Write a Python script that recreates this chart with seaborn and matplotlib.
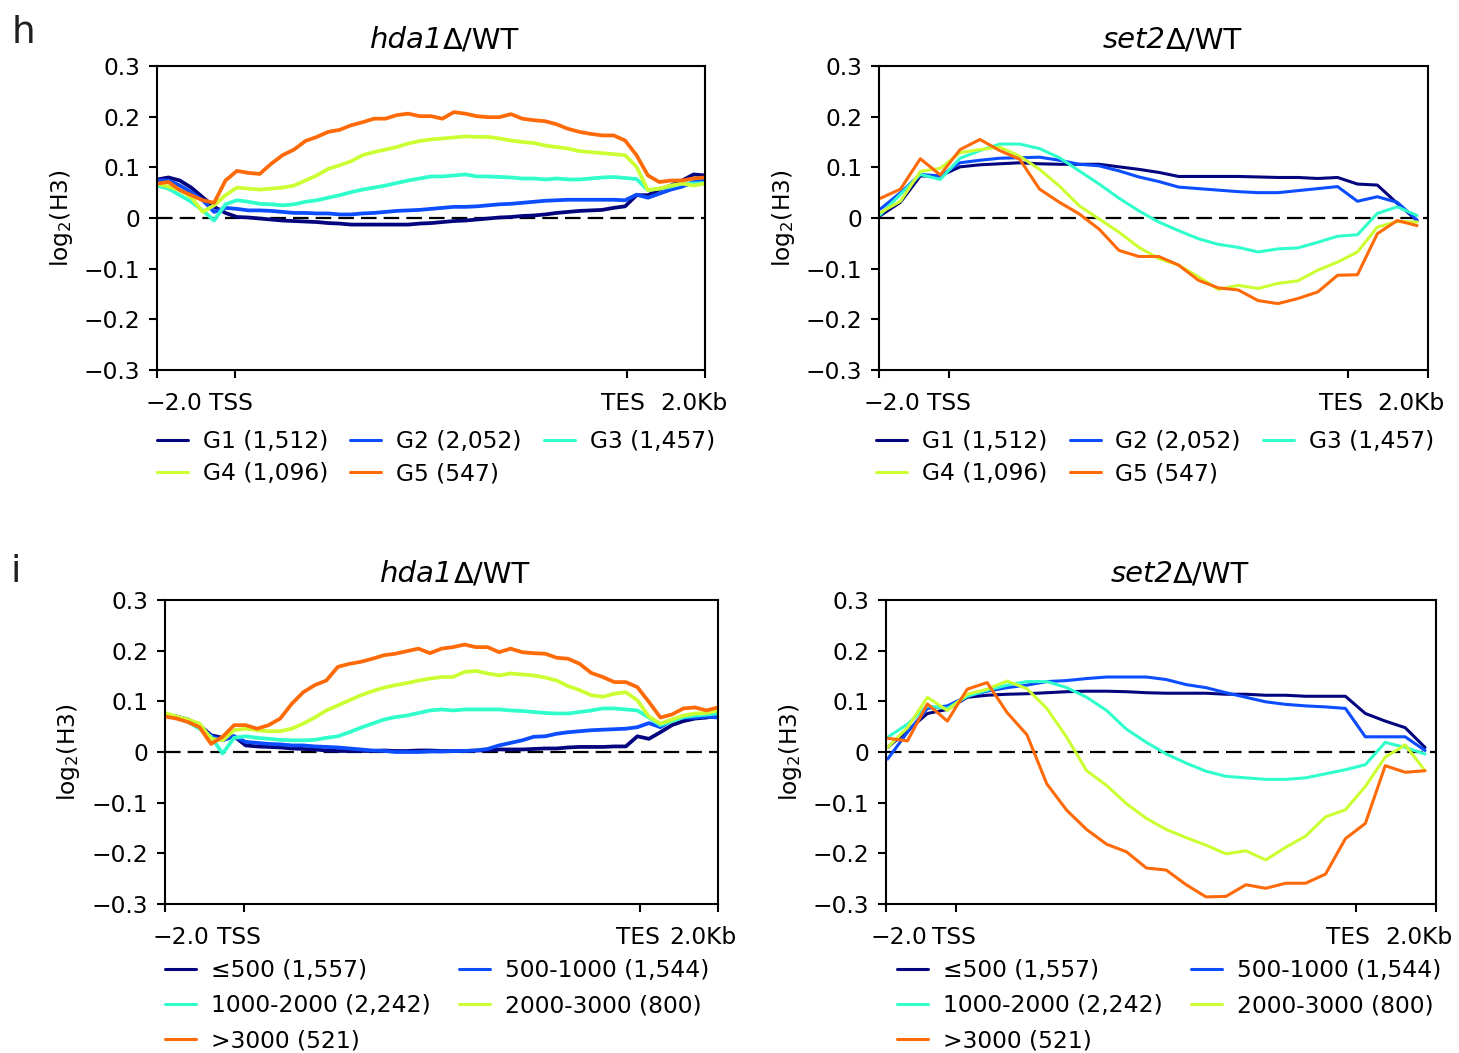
import matplotlib
matplotlib.use('Agg')
import matplotlib.pyplot as plt
from matplotlib.lines import Line2D
import seaborn as sns
import numpy as np
import pandas as pd

# ---- data (log2 H3 ratio per bin) ----
colors = ['#04047e', '#0b4dff', '#30ffcc', '#ccff33', '#ff6a08']

groups_top = ['G1 (1,512)', 'G2 (2,052)', 'G3 (1,457)', 'G4 (1,096)', 'G5 (547)']
groups_bottom = ['≤500 (1,557)', '500-1000 (1,544)', '1000-2000 (2,242)',
                 '2000-3000 (800)', '>3000 (521)']

xtick_labels = ['\u22122.0', 'TSS', 'TES', '2.0Kb']

# hda1/WT, grouped by G1..G5 (49 bins)
hda1_g1 = [0.076, 0.080, 0.074, 0.060, 0.041, 0.022, 0.010, 0.002, 0.001, -0.001,
           -0.003, -0.005, -0.006, -0.007, -0.008, -0.010, -0.011, -0.013, -0.013, -0.013,
           -0.013, -0.013, -0.013, -0.011, -0.010, -0.008, -0.006, -0.005, -0.003, -0.001,
           0.001, 0.002, 0.004, 0.005, 0.007, 0.010, 0.012, 0.014, 0.015, 0.016,
           0.020, 0.023, 0.045, 0.045, 0.056, 0.064, 0.074, 0.086, 0.084]
hda1_g2 = [0.074, 0.074, 0.064, 0.051, 0.035, 0.012, 0.020, 0.018, 0.015, 0.015,
           0.014, 0.012, 0.010, 0.010, 0.009, 0.009, 0.007, 0.007, 0.009, 0.010,
           0.012, 0.014, 0.015, 0.016, 0.018, 0.020, 0.022, 0.022, 0.023, 0.025,
           0.027, 0.028, 0.030, 0.032, 0.034, 0.035, 0.036, 0.036, 0.036, 0.036,
           0.036, 0.035, 0.046, 0.040, 0.048, 0.056, 0.062, 0.071, 0.074]
hda1_g3 = [0.064, 0.058, 0.045, 0.032, 0.015, -0.005, 0.027, 0.035, 0.032, 0.028,
           0.027, 0.025, 0.027, 0.032, 0.035, 0.040, 0.045, 0.051, 0.056, 0.060,
           0.064, 0.069, 0.074, 0.078, 0.082, 0.082, 0.084, 0.086, 0.082, 0.082,
           0.081, 0.080, 0.078, 0.078, 0.076, 0.078, 0.076, 0.076, 0.078, 0.080,
           0.081, 0.079, 0.077, 0.055, 0.058, 0.062, 0.068, 0.068, 0.069]
hda1_g4 = [0.068, 0.062, 0.055, 0.041, 0.012, 0.025, 0.045, 0.060, 0.058, 0.056,
           0.058, 0.060, 0.064, 0.074, 0.084, 0.097, 0.104, 0.112, 0.124, 0.130,
           0.135, 0.140, 0.147, 0.152, 0.155, 0.157, 0.159, 0.161, 0.160, 0.160,
           0.157, 0.153, 0.150, 0.148, 0.143, 0.140, 0.137, 0.132, 0.130, 0.128,
           0.126, 0.124, 0.101, 0.055, 0.058, 0.064, 0.068, 0.064, 0.068]
hda1_g5 = [0.068, 0.071, 0.055, 0.045, 0.035, 0.030, 0.074, 0.093, 0.089, 0.087,
           0.107, 0.124, 0.135, 0.152, 0.160, 0.170, 0.174, 0.183, 0.189, 0.196,
           0.196, 0.203, 0.206, 0.201, 0.201, 0.196, 0.209, 0.206, 0.201, 0.199,
           0.199, 0.205, 0.196, 0.193, 0.191, 0.185, 0.176, 0.170, 0.166, 0.163,
           0.163, 0.153, 0.124, 0.084, 0.071, 0.074, 0.074, 0.078, 0.080]

# set2/WT, grouped by G1..G5 (28 bins)
set2_g1 = [0.005, 0.031, 0.083, 0.083, 0.101, 0.105, 0.107, 0.109, 0.107, 0.106,
           0.106, 0.106, 0.101, 0.096, 0.090, 0.082, 0.082, 0.082, 0.082, 0.081,
           0.080, 0.080, 0.078, 0.080, 0.067, 0.065, 0.029, -0.005]
set2_g2 = [0.018, 0.050, 0.086, 0.083, 0.109, 0.114, 0.118, 0.119, 0.120, 0.114,
           0.106, 0.103, 0.093, 0.081, 0.072, 0.061, 0.058, 0.055, 0.052, 0.050,
           0.050, 0.054, 0.058, 0.062, 0.033, 0.042, 0.031, -0.004]
set2_g3 = [0.007, 0.047, 0.086, 0.076, 0.118, 0.133, 0.146, 0.146, 0.137, 0.119,
           0.093, 0.067, 0.039, 0.014, -0.008, -0.025, -0.041, -0.052, -0.058, -0.067,
           -0.061, -0.059, -0.048, -0.036, -0.033, 0.009, 0.022, 0.005]
set2_g4 = [0.011, 0.033, 0.092, 0.098, 0.129, 0.135, 0.140, 0.122, 0.096, 0.063,
           0.024, -0.002, -0.028, -0.058, -0.080, -0.093, -0.116, -0.141, -0.133, -0.139,
           -0.129, -0.124, -0.103, -0.087, -0.067, -0.018, -0.007, -0.008]
set2_g5 = [0.039, 0.057, 0.117, 0.085, 0.135, 0.155, 0.133, 0.116, 0.057, 0.031,
           0.008, -0.022, -0.064, -0.076, -0.076, -0.093, -0.123, -0.138, -0.142, -0.163,
           -0.169, -0.159, -0.146, -0.113, -0.112, -0.031, -0.005, -0.015]

# hda1/WT, grouped by gene length (49 bins)
hda1_l1 = [0.072, 0.070, 0.064, 0.053, 0.033, 0.028, 0.031, 0.013, 0.011, 0.010,
           0.009, 0.007, 0.006, 0.005, 0.003, 0.002, 0.002, 0.002, 0.002, 0.003,
           0.002, 0.002, 0.003, 0.003, 0.002, 0.002, 0.002, 0.003, 0.003, 0.005,
           0.005, 0.005, 0.006, 0.007, 0.007, 0.009, 0.010, 0.010, 0.010, 0.011,
           0.011, 0.031, 0.026, 0.039, 0.053, 0.061, 0.066, 0.068, 0.072]
hda1_l2 = [0.072, 0.068, 0.061, 0.051, 0.031, 0.023, 0.031, 0.020, 0.018, 0.016,
           0.015, 0.013, 0.013, 0.011, 0.010, 0.009, 0.007, 0.005, 0.003, 0.002,
           0.000, 0.000, 0.000, 0.001, 0.001, 0.002, 0.002, 0.003, 0.006, 0.013,
           0.018, 0.023, 0.030, 0.031, 0.036, 0.039, 0.041, 0.043, 0.044, 0.045,
           0.046, 0.049, 0.057, 0.049, 0.063, 0.068, 0.068, 0.070, 0.068]
hda1_l3 = [0.072, 0.068, 0.059, 0.046, 0.030, -0.003, 0.028, 0.031, 0.028, 0.026,
           0.024, 0.023, 0.023, 0.024, 0.028, 0.031, 0.039, 0.048, 0.056, 0.064,
           0.069, 0.072, 0.077, 0.082, 0.084, 0.082, 0.084, 0.084, 0.084, 0.084,
           0.082, 0.081, 0.079, 0.077, 0.076, 0.076, 0.079, 0.082, 0.086, 0.086,
           0.084, 0.082, 0.068, 0.053, 0.061, 0.069, 0.072, 0.074, 0.076]
hda1_l4 = [0.077, 0.070, 0.064, 0.056, 0.026, 0.023, 0.043, 0.046, 0.043, 0.041,
           0.041, 0.046, 0.056, 0.068, 0.082, 0.092, 0.102, 0.112, 0.120, 0.127,
           0.132, 0.136, 0.141, 0.145, 0.148, 0.148, 0.158, 0.160, 0.155, 0.151,
           0.155, 0.153, 0.151, 0.147, 0.141, 0.130, 0.122, 0.112, 0.109, 0.115,
           0.118, 0.102, 0.070, 0.056, 0.064, 0.072, 0.076, 0.077, 0.082]
hda1_l5 = [0.070, 0.066, 0.059, 0.049, 0.016, 0.030, 0.053, 0.053, 0.046, 0.053,
           0.066, 0.095, 0.118, 0.132, 0.141, 0.168, 0.174, 0.178, 0.184, 0.191,
           0.194, 0.199, 0.204, 0.195, 0.204, 0.207, 0.212, 0.207, 0.207, 0.197,
           0.204, 0.197, 0.195, 0.194, 0.186, 0.184, 0.174, 0.156, 0.148, 0.138,
           0.138, 0.128, 0.099, 0.068, 0.074, 0.086, 0.088, 0.082, 0.088]

# set2/WT, grouped by gene length (28 bins)
set2_l1 = [0.009, 0.042, 0.076, 0.084, 0.108, 0.112, 0.114, 0.115, 0.117, 0.119,
           0.120, 0.120, 0.119, 0.117, 0.116, 0.116, 0.116, 0.114, 0.114, 0.112,
           0.112, 0.110, 0.110, 0.110, 0.076, 0.061, 0.048, 0.009]
set2_l2 = [-0.014, 0.039, 0.086, 0.091, 0.110, 0.120, 0.127, 0.132, 0.139, 0.141,
           0.145, 0.148, 0.148, 0.148, 0.143, 0.133, 0.127, 0.117, 0.108, 0.099,
           0.094, 0.091, 0.089, 0.086, 0.030, 0.030, 0.030, 0.003]
set2_l3 = [0.029, 0.055, 0.091, 0.086, 0.110, 0.122, 0.132, 0.139, 0.139, 0.127,
           0.108, 0.082, 0.045, 0.019, -0.004, -0.022, -0.038, -0.048, -0.051, -0.054,
           -0.054, -0.051, -0.043, -0.035, -0.025, 0.019, 0.009, -0.004]
set2_l4 = [0.009, 0.048, 0.108, 0.082, 0.114, 0.124, 0.140, 0.125, 0.086, 0.029,
           -0.037, -0.066, -0.102, -0.131, -0.153, -0.169, -0.184, -0.201, -0.195, -0.213,
           -0.188, -0.166, -0.128, -0.114, -0.068, -0.010, 0.014, -0.037]
set2_l5 = [0.027, 0.022, 0.095, 0.061, 0.124, 0.137, 0.078, 0.034, -0.063, -0.115,
           -0.153, -0.182, -0.197, -0.229, -0.233, -0.262, -0.286, -0.285, -0.262, -0.269,
           -0.259, -0.259, -0.241, -0.171, -0.141, -0.027, -0.040, -0.037]

# ---- style ----
sns.set_style('ticks')
plt.rcParams['font.family'] = ['DejaVu Sans']
plt.rcParams['axes.unicode_minus'] = True
plt.rcParams['text.color'] = 'black'
plt.rcParams['axes.labelcolor'] = 'black'
plt.rcParams['xtick.color'] = 'black'
plt.rcParams['ytick.color'] = 'black'

FS = 16.8

fig = plt.figure(figsize=(14.59, 10.53), dpi=100)
W, H = 1459, 1053


def add_axes(x0, x1, y0, y1):
    return fig.add_axes([x0 / W, 1 - y1 / H, (x1 - x0) / W, (y1 - y0) / H])


def draw_panel(ax, series, labels, gene, xlim, ticks, lw, offs):
    nb = len(series[0])
    df = pd.DataFrame({
        'bin': np.tile(np.arange(nb), len(series)),
        'log2': np.concatenate(series),
        'group': np.repeat(labels, nb),
    })
    ax.axhline(0, color='black', lw=1.6, ls=(0, (7, 3.2)), zorder=1)
    sns.lineplot(data=df, x='bin', y='log2', hue='group', hue_order=labels,
                 palette=dict(zip(labels, colors)), linewidth=lw,
                 legend=False, errorbar=None, ax=ax, zorder=2)
    ax.set_xlim(*xlim)
    ax.set_ylim(-0.3, 0.3)
    ax.set_yticks([-0.3, -0.2, -0.1, 0, 0.1, 0.2, 0.3])
    ax.set_yticklabels(['\u22120.3', '\u22120.2', '\u22120.1', '0', '0.1', '0.2', '0.3'],
                       fontsize=FS, color='black')
    ax.set_xticks(ticks)
    ax.set_xticklabels([''] * len(ticks))
    # tick labels nudged sideways like the original ("-2.0 TSS", "TES 2.0Kb")
    for t, lab, dx in zip(ticks, xtick_labels, offs):
        ax.annotate(lab, xy=(t, 0), xycoords=('data', 'axes fraction'),
                    xytext=(dx, -28.5), textcoords='offset points',
                    ha='center', va='baseline', fontsize=FS, color='black')
    ax.tick_params(direction='out', length=6, width=1.5, colors='black')
    ax.tick_params(axis='y', pad=6)
    for sp in ax.spines.values():
        sp.set_visible(True)
        sp.set_linewidth(1.5)
        sp.set_color('black')
    ax.set_xlabel('')
    ax.set_ylabel(r'log$_2$(H3)', fontsize=FS, color='black')
    ax.yaxis.set_label_coords(-0.15, 0.5)
    t1 = ax.text(0.522, 1.058, gene, transform=ax.transAxes, fontsize=21,
                 style='italic', ha='right', va='baseline', color='black')
    ax.annotate('\u0394/WT', xy=(1, 0), xycoords=t1, fontsize=21,
                ha='left', va='bottom', color='black')


def add_legend(ax, labels, order, ncol, anchor, lspace, cspace):
    handles = [Line2D([], [], color=colors[i], lw=2.2) for i in order]
    leg = ax.legend(handles, [labels[i] for i in order], loc='upper left', ncol=ncol,
                    bbox_to_anchor=anchor, frameon=False, fontsize=FS, borderpad=0,
                    borderaxespad=0, handlelength=1.33, handletextpad=0.64,
                    labelspacing=lspace, columnspacing=cspace)
    for txt in leg.get_texts():
        txt.set_color('black')


hda1_ticks = [0, 6.85, 41.2, 48]
set2_ticks = [-0.08, 3.43, 23.54, 27.55]

ax1 = add_axes(157, 705, 66, 370)
draw_panel(ax1, [hda1_g1, hda1_g2, hda1_g3, hda1_g4, hda1_g5], groups_top, 'hda1',
           (0, 48), hda1_ticks, 2.7, [12, -3, -3, -8])
add_legend(ax1, groups_top, [0, 3, 1, 4, 2], 3, (0, -0.199), 0.38, 0.94)

ax2 = add_axes(879, 1428, 66, 370)
draw_panel(ax2, [set2_g1, set2_g2, set2_g3, set2_g4, set2_g5], groups_top, 'set2',
           (-0.08, 27.55), set2_ticks, 2.2, [9, 0, -5, -12])
add_legend(ax2, groups_top, [0, 3, 1, 4, 2], 3, (-0.005, -0.199), 0.38, 0.94)

ax3 = add_axes(165, 718, 600, 904)
draw_panel(ax3, [hda1_l1, hda1_l2, hda1_l3, hda1_l4, hda1_l5], groups_bottom, 'hda1',
           (0, 48), hda1_ticks, 2.7, [11.5, -3.5, -1.5, -11])
add_legend(ax3, groups_bottom, [0, 2, 4, 1, 3], 2, (0, -0.182), 0.52, 1.2)

ax4 = add_axes(886, 1436, 600, 904)
draw_panel(ax4, [set2_l1, set2_l2, set2_l3, set2_l4, set2_l5], groups_bottom, 'set2',
           (-0.08, 27.55), set2_ticks, 2.2, [9.5, -1.5, -6, -12])
add_legend(ax4, groups_bottom, [0, 2, 4, 1, 3], 2, (0.02, -0.182), 0.52, 1.2)

fig.text(12 / W, 1 - 43 / H, 'h', fontsize=27, color='#231f20', ha='left', va='baseline')
fig.text(10 / W, 1 - 582 / H, 'i', fontsize=27, color='#231f20', ha='left', va='baseline')

fig.savefig('out.png', dpi=100)
